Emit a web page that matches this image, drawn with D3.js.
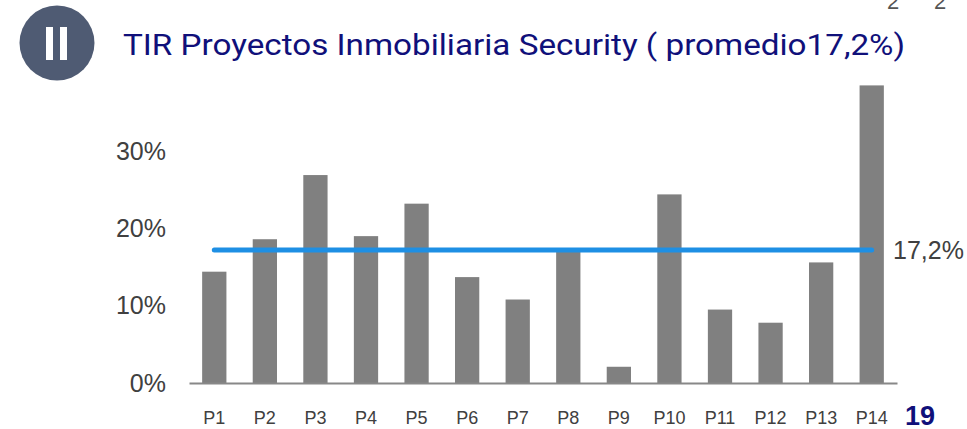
<!DOCTYPE html>
<html>
<head>
<meta charset="utf-8">
<script src="https://cdn.jsdelivr.net/npm/d3@7"></script>
<style>
  body { margin: 0; background: #fff; }
  svg { display: block; }
</style>
</head>
<body>
<div id="chart"></div>
<script>
const projects = ['P1', 'P2', 'P3', 'P4', 'P5', 'P6', 'P7', 'P8', 'P9', 'P10', 'P11', 'P12', 'P13', 'P14']
const tir = [14.4, 18.6, 26.9, 19.0, 23.2, 13.7, 10.8, 17.1, 2.1, 24.4, 9.5, 7.8, 15.6, 38.5]
const average = 17.2
const yTicks = [0, 10, 20, 30]

const width = 967
const height = 429

const svg = d3.select('#chart')
  .append('svg')
  .attr('width', width)
  .attr('height', height)

// Header badge
svg.append('circle')
  .attr('cx', 57)
  .attr('cy', 43)
  .attr('r', 37.5)
  .attr('fill', '#4f5b73')

svg.append('rect').attr('x', 46).attr('y', 27).attr('width', 7).attr('height', 33).attr('fill', '#fff')
svg.append('rect').attr('x', 60).attr('y', 27).attr('width', 7).attr('height', 33).attr('fill', '#fff')

// Title (stretched to match the condensed original face)
svg.append('text')
  .attr('x', 123)
  .attr('y', 55)
  .attr('fill', '#10107a')
  .attr('font-family', 'Roboto, "Liberation Sans", sans-serif')
  .attr('font-size', '30px')
  .attr('textLength', 782)
  .attr('lengthAdjust', 'spacingAndGlyphs')
  .text('TIR Proyectos Inmobiliaria Security ( promedio17,2%)')

// Cut-off glyphs at the top right edge
svg.append('text').attr('x', 887).attr('y', 9).attr('fill', '#555')
  .attr('font-family', 'Liberation Sans, sans-serif').attr('font-size', '22px').text('2')
svg.append('text').attr('x', 934).attr('y', 9).attr('fill', '#555')
  .attr('font-family', 'Liberation Sans, sans-serif').attr('font-size', '22px').text('2')

// Scales
const x = d3.scaleBand()
  .domain(projects)
  .range([189, 897])
  .paddingInner(0.52)
  .paddingOuter(0.26)

const y = d3.scaleLinear()
  .domain([0, 10])
  .range([383, 305.7])

// Bars
svg.selectAll('.bar')
  .data(tir)
  .join('rect')
  .attr('class', 'bar')
  .attr('x', (d, i) => x(projects[i]))
  .attr('y', d => y(d))
  .attr('width', x.bandwidth())
  .attr('height', d => y(0) - y(d))
  .attr('fill', '#808080')

// Y axis labels
const yAxis = svg.append('g')
  .attr('transform', 'translate(166,0)')
  .call(d3.axisLeft(y).tickValues(yTicks).tickSize(0).tickPadding(0).tickFormat(d => d + '%'))
yAxis.select('.domain').remove()
yAxis.selectAll('text')
  .attr('fill', '#404040')
  .attr('font-family', 'Liberation Sans, Arial, sans-serif')
  .attr('font-size', '25px')

// X axis
const xAxis = svg.append('g')
  .attr('transform', `translate(0,${y(0)})`)
  .call(d3.axisBottom(x).tickSize(0).tickPadding(28))
xAxis.select('.domain')
  .attr('stroke', '#888')
  .attr('stroke-width', 2)
xAxis.selectAll('text')
  .attr('fill', '#404040')
  .attr('font-family', 'Liberation Sans, Arial, sans-serif')
  .attr('font-size', '18px')

// Average line
const first = projects[0]
const last = projects[projects.length - 1]
svg.append('line')
  .attr('x1', x(first) + x.bandwidth() / 2)
  .attr('x2', x(last) + x.bandwidth() / 2)
  .attr('y1', y(average))
  .attr('y2', y(average))
  .attr('stroke', '#1e8fe4')
  .attr('stroke-width', 5)
  .attr('stroke-linecap', 'round')

svg.append('text')
  .attr('x', 893)
  .attr('y', y(average) + 9)
  .attr('fill', '#404040')
  .attr('font-family', 'Liberation Sans, Arial, sans-serif')
  .attr('font-size', '25px')
  .text('17,2%')

// Page number
svg.append('text')
  .attr('x', 905)
  .attr('y', 425)
  .attr('fill', '#10107a')
  .attr('font-family', 'Liberation Sans, Arial, sans-serif')
  .attr('font-weight', 'bold')
  .attr('font-size', '27px')
  .text('19')
</script>
</body>
</html>
